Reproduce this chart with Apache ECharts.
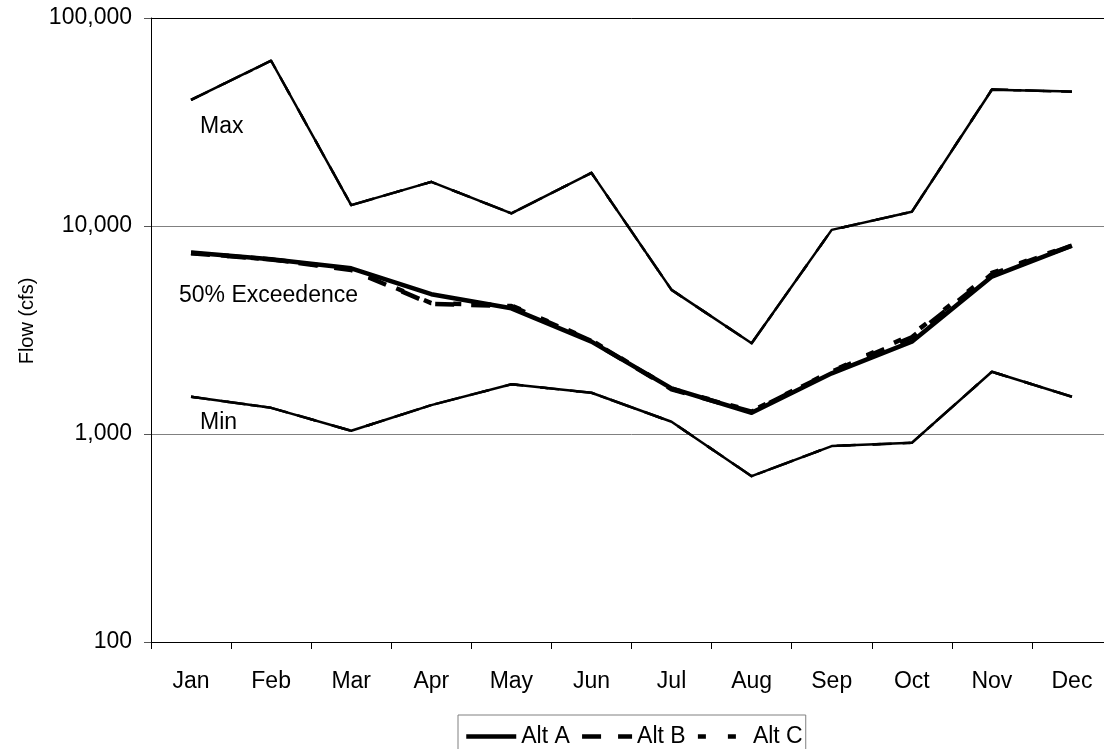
<!DOCTYPE html>
<html><head><meta charset="utf-8">
<script src="https://cdn.jsdelivr.net/npm/echarts@6/dist/echarts.min.js"></script>
<style>html,body{margin:0;padding:0;background:#fff;overflow:hidden}#c{width:1120px;height:749px}</style>
</head><body><div id="c"></div>
<script>
const months = ['Jan','Feb','Mar','Apr','May','Jun','Jul','Aug','Sep','Oct','Nov','Dec'];
const yTickValues = [100, 1000, 10000, 100000];
const legendNames = ['Alt A','Alt B','Alt C'];

const altAMax = [40400, 62300, 12600, 16300, 11500, 18000, 4930, 2730, 9580, 11700, 45200, 44300];
const altBMax = [40400, 62300, 12600, 16300, 11500, 18000, 4930, 2730, 9580, 11700, 45400, 44200];
const altCMax = [40400, 62300, 12600, 16300, 11500, 18000, 4930, 2730, 9580, 11700, 45300, 44200];

const altAMed = [7450, 6920, 6260, 4700, 4020, 2780, 1657, 1265, 1958, 2780, 5710, 8050];
const altBMed = [7400, 6900, 6150, 4220, 4120, 2800, 1640, 1280, 1990, 2920, 5870, 8050];
const altCMed = [7420, 6910, 6200, 4260, 4150, 2820, 1650, 1290, 2000, 3000, 5950, 8100];

const altAMin = [1510, 1336, 1036, 1377, 1733, 1578, 1145, 627, 875, 907, 1992, 1510];
const altBMin = [1510, 1336, 1036, 1377, 1733, 1578, 1145, 627, 875, 907, 1992, 1510];
const altCMin = [1510, 1336, 1036, 1377, 1733, 1578, 1145, 627, 875, 907, 1992, 1510];

const FONT = 'Liberation Sans, Arial, sans-serif';
const dashB = [19, 17];
const dashC = [8, 22];

function mk(name, data, width, type) {
  return {
    name: name, type: 'line', data: data, symbol: 'none', silent: true,
    lineStyle: { color: '#000', width: width, type: type, cap: 'butt', join: 'round' },
    itemStyle: { color: '#000' },
    emphasis: { disabled: true }
  };
}

const chart = echarts.init(document.getElementById('c'), null, { renderer: 'canvas' });
chart.setOption({
  animation: false,
  backgroundColor: '#fff',
  textStyle: { fontFamily: FONT },
  grid: { left: 151, top: 18, width: 961, height: 624, containLabel: false },
  xAxis: [{
    type: 'category', data: months, boundaryGap: true,
    axisLine: { show: true, lineStyle: { color: '#000', width: 1 } },
    axisTick: { show: true, length: 7, lineStyle: { color: '#000' } },
    axisLabel: { fontSize: 23, color: '#000', margin: 28, fontFamily: FONT },
    splitLine: { show: false }
  }, {
    type: 'category', data: months, position: 'top', boundaryGap: true,
    axisLine: { show: true, lineStyle: { color: '#000', width: 1 } },
    axisTick: { show: false }, axisLabel: { show: false }, splitLine: { show: false }
  }],
  yAxis: {
    type: 'log', logBase: 10, min: yTickValues[0], max: yTickValues[yTickValues.length - 1],
    axisLine: { show: true, lineStyle: { color: '#000', width: 1 } },
    axisTick: { show: true, length: 7, lineStyle: { color: '#555' } },
    axisLabel: { fontSize: 23, color: '#000', margin: 19, fontFamily: FONT,
      formatter: v => Math.round(v).toLocaleString('en-US') },
    splitLine: { show: true, lineStyle: { color: '#808080', width: 1 } }
  },
  legend: {
    data: legendNames, left: 458, top: 715, orient: 'horizontal',
    padding: [10, 3, 12, 6], borderColor: '#808080', borderWidth: 1,
    itemWidth: 50, itemHeight: 22, itemGap: 10,
    textStyle: { fontSize: 23, color: '#000', fontFamily: FONT },
    lineStyle: { width: 4.5 },
    itemStyle: { color: 'rgba(0,0,0,0)', borderWidth: 0, opacity: 0 },
    selectedMode: false
  },
  graphic: [
    { type: 'text', x: 27, y: 321, rotation: Math.PI / 2, style: { text: 'Flow (cfs)', fill: '#000', font: '20px ' + FONT, align: 'center', verticalAlign: 'middle' } },
    { type: 'text', x: 200, y: 127, style: { text: 'Max', fill: '#000', font: '23px ' + FONT, verticalAlign: 'middle' } },
    { type: 'text', x: 179, y: 296, style: { text: '50% Exceedence', fill: '#000', font: '23px ' + FONT, verticalAlign: 'middle' } },
    { type: 'text', x: 200, y: 423, style: { text: 'Min', fill: '#000', font: '23px ' + FONT, verticalAlign: 'middle' } }
  ],
  series: [
    mk('Alt A', altAMed, 4.5, 'solid'),
    mk('Alt A Max', altAMax, 2.5, 'solid'),
    mk('Alt A Min', altAMin, 2.5, 'solid'),
    mk('Alt B', altBMed, 4.5, dashB),
    mk('Alt B Max', altBMax, 2.5, dashB),
    mk('Alt B Min', altBMin, 2.5, dashB),
    mk('Alt C', altCMed, 4.5, dashC),
    mk('Alt C Max', altCMax, 2.5, dashC),
    mk('Alt C Min', altCMin, 2.5, dashC)
  ]
});
</script>
</body></html>
